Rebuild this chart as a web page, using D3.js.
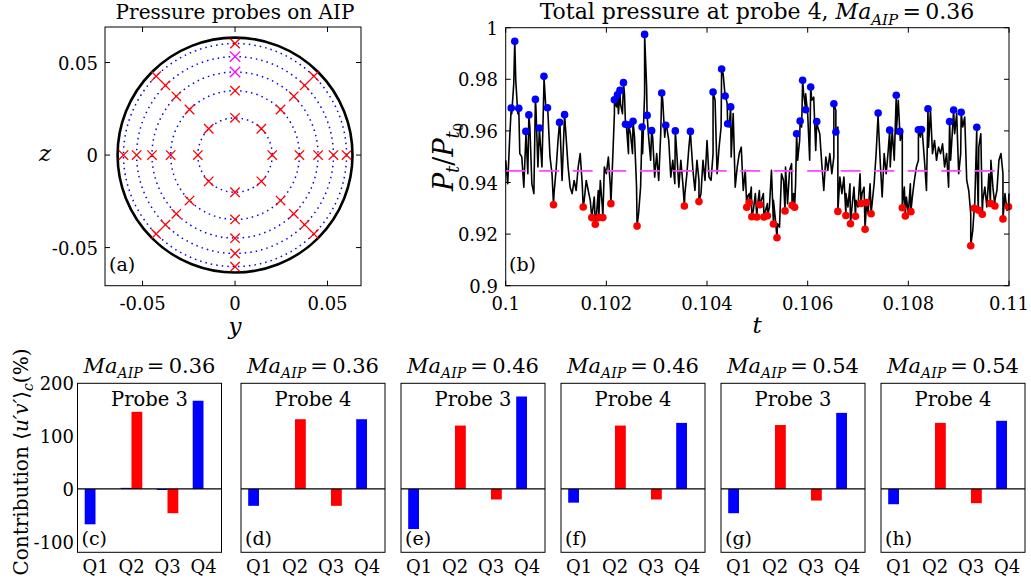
<!DOCTYPE html>
<html><head><meta charset="utf-8">
<script src="https://cdn.jsdelivr.net/npm/d3@7"></script>
<style>
body{margin:0;background:#fff}
svg text{font-family:"DejaVu Serif","Liberation Serif",serif;fill:#000}
</style>
</head><body><svg id="c" width="1031" height="585"></svg>
<script>
// ---------------- DATA ----------------
// Panel (a): probe rakes
const rakeAngles = [0, 45, 90, 135, 180, 225, 270, 315];
const ringRadii = [0.0201, 0.0348, 0.0449, 0.0532, 0.0603];
const ductRadius = 0.0635;
const highlightedProbes = [{angle: 90, ring: 2}, {angle: 90, ring: 3}];
const ticksA = [-0.05, 0, 0.05];
const tickLabelsA = ["-0.05", "0", "0.05"];

// Panel (b): total pressure time series (uniform samples from t0 with step dt)
const t0 = 0.1, dt = 0.00004;
const pressure = [
0.9486,0.9395,0.9576,0.9667,0.9783,0.9796,0.9667,0.9512,0.9499,0.9382,
0.9576,0.9434,0.9615,0.9395,0.9357,0.9693,0.9460,0.9576,0.9460,0.9783,
0.9680,0.9667,0.9499,0.9434,0.9357,0.9447,0.9563,0.9615,0.9408,0.9615,
0.9576,0.9460,0.9382,0.9357,0.9408,0.9369,0.9460,0.9512,0.9395,0.9331,
0.9408,0.9369,0.9331,0.9279,0.9344,0.9266,0.9369,0.9408,0.9305,0.9460,
0.9434,0.9499,0.9382,0.9460,0.9667,0.9693,0.9667,0.9706,0.9667,0.9744,
0.9615,0.9512,0.9589,0.9512,0.9576,0.9382,0.9279,0.9382,0.9512,0.9744,
0.9770,0.9576,0.9486,0.9576,0.9421,0.9512,0.9408,0.9589,0.9719,0.9576,
0.9615,0.9563,0.9421,0.9486,
0.9395,0.9512,0.9382,0.9486,0.9395,0.9357,
0.9434,0.9537,0.9563,0.9447,0.9369,0.9486,0.9408,0.9357,0.9486,0.9408,
0.9563,0.9421,0.9408,0.9512,0.9719,0.9434,0.9537,0.9615,0.9822,0.9744,
0.9706,0.9615,0.9499,0.9667,0.9382,0.9460,0.9512,0.9537,0.9369,0.9447,
0.9344,0.9357,0.9382,0.9292,0.9357,0.9305,0.9369,0.9331,0.9357,0.9292,
0.9318,0.9305,0.9447,0.9331,0.9253,0.9240,0.9227,0.9434,0.9408,0.9460,
0.9318,0.9447,0.9473,0.9357,0.9395,0.9486,0.9563,0.9615,0.9744,0.9744,
0.9667,0.9486,0.9719,0.9731,0.9524,0.9615,0.9589,0.9473,0.9369,0.9499,
0.9447,0.9512,0.9434,0.9499,0.9680,0.9615,0.9421,0.9357,0.9421,0.9357,
0.9305,0.9395,0.9305,0.9382,0.9331,0.9305,0.9434,0.9357,0.9382,0.9292,
0.9279,0.9395,0.9318,0.9395,0.9512,0.9654,0.9486,0.9344,0.9512,0.9434,
0.9524,0.9460,0.9602,0.9486,0.9589,0.9719,0.9563,0.9602,0.9382,0.9344,
0.9279,0.9395,0.9344,0.9408,0.9460,0.9486,0.9576,0.9589,0.9486,0.9369,
0.9537,0.9680,0.9512,0.9563,0.9486,0.9537,0.9512,0.9550,0.9460,0.9512,
0.9382,0.9486,0.9615,0.9589,0.9667,0.9434,0.9512,0.9615,0.9654,0.9408,
0.9369,0.9279,0.9214,0.9320,0.9500,0.9537,0.9589,0.9331,0.9382,0.9305,
0.9434,0.9486,0.9382,0.9331,0.9369,0.9486,0.9512,0.9434,0.9357,0.9292,0.9357
];
const peakT = [0.10011,0.10018,0.10026,0.10040,0.10046,0.10059,0.10067,0.10076,0.10083,0.10107,
0.10117,0.10216,0.10222,0.10227,0.10234,0.10238,0.10244,0.10253,0.10271,0.10276,
0.10281,0.10290,0.10310,0.10318,0.10337,0.10367,0.10412,0.10429,0.10436,0.10441,
0.10447,0.10578,0.10585,0.10590,0.10596,0.10606,0.10618,0.10652,0.10656,0.10740,
0.10763,0.10776,0.10783,0.10820,0.10826,0.10839,0.10882,0.10890,0.10905,0.10936];
const peakP = [0.9689,0.9947,0.9688,0.9598,0.9662,0.9722,0.9611,0.9812,0.9690,0.9633,
0.9663,0.9721,0.9740,0.9757,0.9787,0.9626,0.9623,0.9637,0.9615,0.9974,
0.9660,0.9601,0.9747,0.9622,0.9600,0.9598,0.9751,0.9840,0.9735,0.9628,
0.9693,0.9589,0.9638,0.9796,0.9682,0.9770,0.9636,0.9705,0.9596,0.9669,
0.9603,0.9738,0.9598,0.9604,0.9605,0.9686,0.9636,0.9681,0.9672,0.9614];
const troughT = [0.10095,0.10154,0.10171,0.10178,0.10185,0.10193,0.10209,0.10261,0.10355,0.10384,
0.10479,0.10484,0.10489,0.10499,0.10505,0.10513,0.10520,0.10532,0.10539,0.10555,
0.10569,0.10574,0.10660,0.10676,0.10685,0.10695,0.10706,0.10714,0.10717,0.10726,
0.10788,0.10794,0.10805,0.10924,0.10931,0.10939,0.10947,0.10963,0.10972,0.10988,0.10999];
const troughP = [0.9314,0.9305,0.9264,0.9238,0.9264,0.9264,0.9318,0.9231,0.9309,0.9326,
0.9304,0.9322,0.9267,0.9266,0.9314,0.9266,0.9271,0.9239,0.9186,0.9290,
0.9312,0.9304,0.9288,0.9272,0.9240,0.9269,0.9319,0.9219,0.9322,0.9279,
0.9302,0.9270,0.9287,0.9155,0.9300,0.9293,0.9277,0.9319,0.9309,0.9259,0.9306];
const meanPressure = 0.9445;
const ticksBx = [0.1, 0.102, 0.104, 0.106, 0.108, 0.11];
const tickLabelsBx = ["0.1", "0.102", "0.104", "0.106", "0.108", "0.11"];
const ticksBy = [0.9, 0.92, 0.94, 0.96, 0.98, 1];
const tickLabelsBy = ["0.9", "0.92", "0.94", "0.96", "0.98", "1"];

// Panels (c)-(h): quadrant contributions (%)
const quadrants = ["Q1", "Q2", "Q3", "Q4"];
const panelTags = ["(c)", "(d)", "(e)", "(f)", "(g)", "(h)"];
const probeNames = ["Probe 3", "Probe 4", "Probe 3", "Probe 4", "Probe 3", "Probe 4"];
const machValues = ["0.36", "0.36", "0.46", "0.46", "0.54", "0.54"];
const blueBars = [
  [-67, 2, -2, 167],
  [-32, 0, 0, 132],
  [-76, 0, 0, 175],
  [-26, 0, 0, 125],
  [-46, 0, 0, 144],
  [-29, 0, 0, 129]
];
const redBars = [
  [0, 146, -46, 0],
  [0, 132, -32, 0],
  [0, 120, -20, 0],
  [0, 120, -20, 0],
  [0, 121, -22, 0],
  [0, 125, -27, 0]
];
const ticksC = [-100, 0, 100, 200];
const tickLabelsC = ["-100", "0", "100", "200"];

// ---------------- DRAWING ----------------
const svg = d3.select("#c");
const BLUE = "#0000ff", RED = "#ff0000", MAG = "#ff00ff";
const TICK = 18;

function subMa(text, size, subSize, value) {
  text.append("tspan").attr("font-style", "italic").text("Ma");
  text.append("tspan").attr("font-style", "italic").attr("font-size", subSize).attr("dy", size * 0.25).text("AIP");
  text.append("tspan").attr("dy", -size * 0.25).text("\u2009=\u2009" + value);
}

function inwardAxes(g, xs, ys, xt, yt, len) {
  const [x0, x1] = xs.range(), [y0, y1] = ys.range();
  xt.forEach(v => {
    g.append("line").attr("x1", xs(v)).attr("x2", xs(v)).attr("y1", y0).attr("y2", y0 - len);
    g.append("line").attr("x1", xs(v)).attr("x2", xs(v)).attr("y1", y1).attr("y2", y1 + len);
  });
  yt.forEach(v => {
    g.append("line").attr("y1", ys(v)).attr("y2", ys(v)).attr("x1", x0).attr("x2", x0 + len);
    g.append("line").attr("y1", ys(v)).attr("y2", ys(v)).attr("x1", x1).attr("x2", x1 - len);
  });
  g.selectAll("line").attr("stroke", "#000").attr("stroke-width", 1);
}

// ===== Panel (a) =====
{
  const xs = d3.scaleLinear().domain([-0.0703, 0.0681]).range([105, 361]);
  const ys = d3.scaleLinear().domain([-0.0706, 0.0692]).range([285.7, 27]);
  const g = svg.append("g");
  const px = r => xs(r) - xs(0);
  ringRadii.forEach(r => {
    g.append("circle").attr("cx", xs(0)).attr("cy", ys(0)).attr("r", px(r))
      .attr("fill", "none").attr("stroke", BLUE).attr("stroke-width", 1.5)
      .attr("stroke-dasharray", "1.5,4");
  });
  g.append("circle").attr("cx", xs(0)).attr("cy", ys(0)).attr("r", px(ductRadius))
    .attr("fill", "none").attr("stroke", "#000").attr("stroke-width", 2.6);
  const probes = [];
  rakeAngles.forEach(a => ringRadii.forEach((r, k) => {
    const hl = highlightedProbes.some(h => h.angle === a && h.ring === k);
    probes.push({y: r * Math.cos(a * Math.PI / 180), z: r * Math.sin(a * Math.PI / 180), hl});
  }));
  probes.sort((a, b) => a.hl - b.hl).forEach(p => {
    const x = xs(p.y), y = ys(p.z), s = p.hl ? 5.2 : 4.7;
    g.append("path").attr("d", `M${x - s},${y - s}L${x + s},${y + s}M${x - s},${y + s}L${x + s},${y - s}`)
      .attr("stroke", p.hl ? MAG : RED).attr("stroke-width", 1.3).attr("fill", "none");
  });
  g.append("rect").attr("x", 105).attr("y", 27).attr("width", 256).attr("height", 258.7)
    .attr("fill", "none").attr("stroke", "#000").attr("stroke-width", 1);
  inwardAxes(g.append("g"), xs, ys, ticksA, ticksA, 5);
  ticksA.forEach((v, i) => {
    g.append("text").attr("x", xs(v)).attr("y", 310).attr("text-anchor", "middle").attr("font-size", TICK).text(tickLabelsA[i]);
    g.append("text").attr("x", 98).attr("y", ys(v) + 7).attr("text-anchor", "end").attr("font-size", TICK).text(tickLabelsA[i]);
  });
  g.append("text").attr("x", 235).attr("y", 19).attr("text-anchor", "middle").attr("font-size", 20).text("Pressure probes on AIP");
  g.append("text").attr("x", 235).attr("y", 334).attr("text-anchor", "middle").attr("font-size", 23).attr("font-style", "italic").text("y");
  g.append("text").attr("x", 45).attr("y", 161).attr("text-anchor", "middle").attr("font-size", 23).attr("font-style", "italic").text("z");
  g.append("text").attr("x", 109).attr("y", 271).attr("font-size", 19).text("(a)");
}

// ===== Panel (b) =====
{
  const xs = d3.scaleLinear().domain([0.1, 0.11]).range([505.7, 1009]);
  const ys = d3.scaleLinear().domain([0.9, 1]).range([285.7, 27.7]);
  const g = svg.append("g");
  const pts = pressure.map((p, i) => ({t: t0 + i * dt, p}))
    .concat(peakT.map((t, i) => ({t, p: peakP[i]})))
    .concat(troughT.map((t, i) => ({t, p: troughP[i]})))
    .sort((a, b) => a.t - b.t);
  const line = d3.line().x(d => xs(d.t)).y(d => ys(d.p));
  g.append("path").attr("d", line(pts)).attr("fill", "none").attr("stroke", "#000").attr("stroke-width", 1.6).attr("stroke-linejoin", "round");
  g.append("line").attr("x1", xs(0.1)).attr("x2", xs(0.11)).attr("y1", ys(meanPressure)).attr("y2", ys(meanPressure))
    .attr("stroke", "#ff44ff").attr("stroke-width", 1.6).attr("stroke-dasharray", "20,13.5");
  g.selectAll(".pk").data(peakT).enter().append("circle").attr("cx", d => xs(d)).attr("cy", (d, i) => ys(peakP[i])).attr("r", 3.8).attr("fill", BLUE);
  g.selectAll(".tr").data(troughT).enter().append("circle").attr("cx", d => xs(d)).attr("cy", (d, i) => ys(troughP[i])).attr("r", 3.8).attr("fill", RED);
  g.append("rect").attr("x", 505.7).attr("y", 27.7).attr("width", 1009 - 505.7).attr("height", 258)
    .attr("fill", "none").attr("stroke", "#000").attr("stroke-width", 1);
  inwardAxes(g.append("g"), xs, ys, ticksBx, ticksBy, 5);
  ticksBx.forEach((v, i) => g.append("text").attr("x", xs(v)).attr("y", 310).attr("text-anchor", "middle").attr("font-size", TICK).text(tickLabelsBx[i]));
  ticksBy.forEach((v, i) => g.append("text").attr("x", 498).attr("y", ys(v) + 7).attr("text-anchor", "end").attr("font-size", TICK).text(tickLabelsBy[i]));
  const title = g.append("text").attr("x", 757).attr("y", 19).attr("text-anchor", "middle").attr("font-size", 22);
  title.append("tspan").text("Total pressure at probe 4, ");
  subMa(title, 22, 15, "0.36");
  g.append("text").attr("x", 757).attr("y", 333).attr("text-anchor", "middle").attr("font-size", 23).attr("font-style", "italic").text("t");
  const yl = g.append("text").attr("transform", "translate(453,157) rotate(-90)").attr("text-anchor", "middle").attr("font-size", 27);
  yl.append("tspan").attr("font-style", "italic").text("P");
  yl.append("tspan").attr("font-style", "italic").attr("font-size", 18).attr("dy", 6).text("t");
  yl.append("tspan").attr("dy", -6).text("/");
  yl.append("tspan").attr("font-style", "italic").text("P");
  yl.append("tspan").attr("font-style", "italic").attr("font-size", 18).attr("dy", 6).text("t");
  yl.append("tspan").attr("font-size", 13).attr("dy", 4).text("0");
  g.append("text").attr("x", 509).attr("y", 271).attr("font-size", 19).text("(b)");
}

// ===== Panels (c)-(h) =====
const panelLefts = [77.5, 241, 401, 561, 721, 881];
const panelW = 144;
panelLefts.forEach((left, k) => {
  const xs = d3.scaleLinear().domain([0.5, 4.5]).range([left, left + panelW]);
  const ys = d3.scaleLinear().domain([-120, 200]).range([552.3, 383.3]);
  const g = svg.append("g");
  const bw = xs(0.3) - xs(0);
  blueBars[k].forEach((v, q) => {
    if (v === 0) return;
    g.append("rect").attr("x", xs(q + 1 - 0.3)).attr("width", bw)
      .attr("y", ys(Math.max(v, 0))).attr("height", Math.abs(ys(v) - ys(0))).attr("fill", BLUE);
  });
  redBars[k].forEach((v, q) => {
    if (v === 0) return;
    g.append("rect").attr("x", xs(q + 1)).attr("width", bw)
      .attr("y", ys(Math.max(v, 0))).attr("height", Math.abs(ys(v) - ys(0))).attr("fill", RED);
  });
  g.append("line").attr("x1", left).attr("x2", left + panelW).attr("y1", ys(0)).attr("y2", ys(0)).attr("stroke", "#000").attr("stroke-width", 1.2);
  g.append("rect").attr("x", left).attr("y", 383.3).attr("width", panelW).attr("height", 169)
    .attr("fill", "none").attr("stroke", "#000").attr("stroke-width", 1);
  quadrants.forEach((q, i) => g.append("text").attr("x", xs(i + 1)).attr("y", 573).attr("text-anchor", "middle").attr("font-size", 18).text(q));
  const t = g.append("text").attr("x", left + panelW / 2).attr("y", 373).attr("text-anchor", "middle").attr("font-size", 21);
  subMa(t, 21, 14, machValues[k]);
  g.append("text").attr("x", left + panelW / 2).attr("y", 406).attr("text-anchor", "middle").attr("font-size", 19.5).text(probeNames[k]);
  g.append("text").attr("x", left + 4).attr("y", 545).attr("font-size", 19).text(panelTags[k]);
  if (k === 0) {
    ticksC.forEach((v, i) => g.append("text").attr("x", 74).attr("y", ys(v) + 7).attr("text-anchor", "end").attr("font-size", TICK).text(tickLabelsC[i]));
    const yl = g.append("text").attr("transform", "translate(28,462) rotate(-90)").attr("text-anchor", "middle").attr("font-size", 20);
    yl.append("tspan").text("Contribution \u27E8");
    yl.append("tspan").attr("font-style", "italic").text("u\u2032v\u2032");
    yl.append("tspan").text("\u27E9");
    yl.append("tspan").attr("font-size", 14).attr("dy", 5).attr("font-style", "italic").text("c");
    yl.append("tspan").attr("dy", -5).text("(%)");
  }
});
</script>
</body></html>
